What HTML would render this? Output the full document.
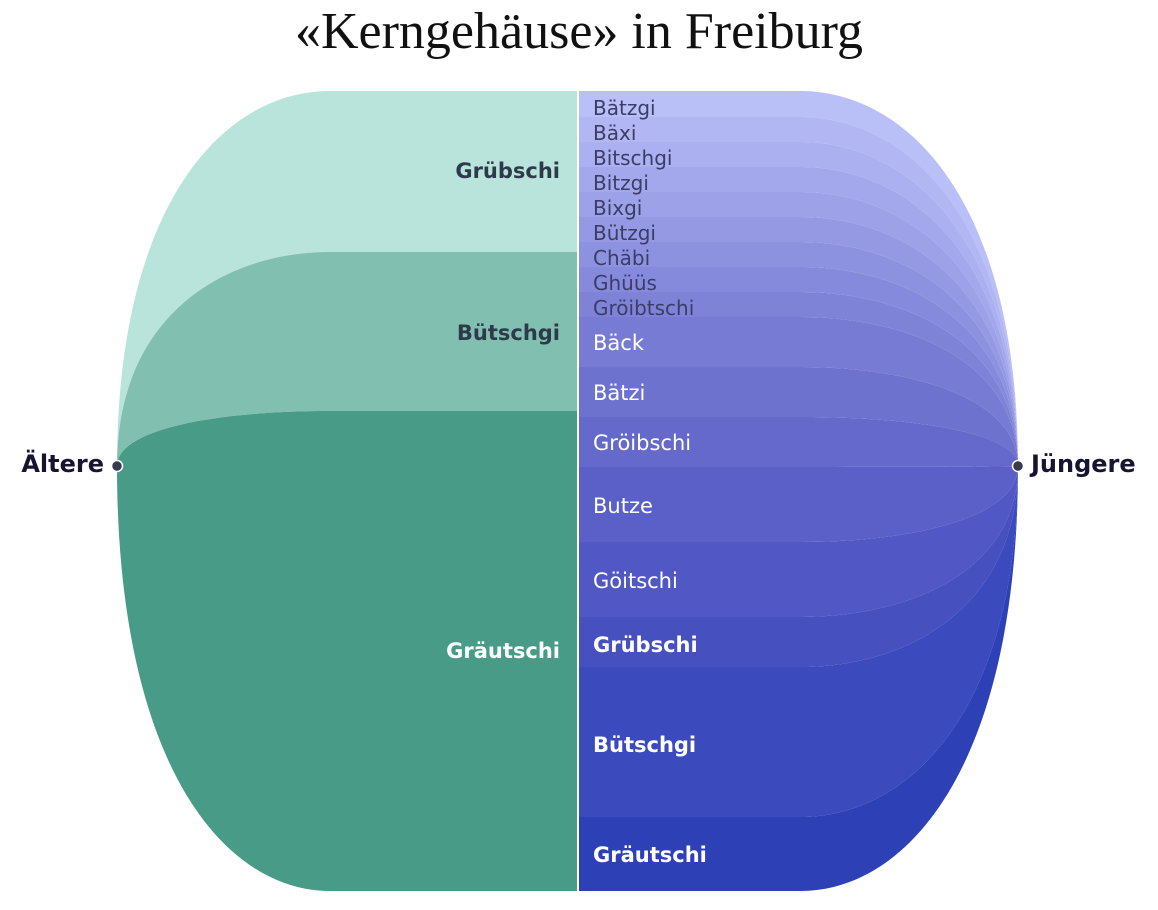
<!DOCTYPE html>
<html><head><meta charset="utf-8"><style>
body{margin:0;background:#fff;width:1158px;height:910px;overflow:hidden}
svg{display:block}
.t{font-family:"Liberation Serif",serif;font-size:52px;fill:#111}
.s{font-family:"DejaVu Sans","Liberation Sans",sans-serif;font-size:20px;fill:#3b3d66}
.w{font-family:"DejaVu Sans","Liberation Sans",sans-serif;font-size:21px;fill:#fff}
.b{font-family:"DejaVu Sans","Liberation Sans",sans-serif;font-size:21px;font-weight:bold}
</style></head><body>
<svg id="g" width="1158" height="910" viewBox="0 0 1158 910">
<g id="L"></g><g id="R"></g>
<rect x="577" y="91" width="2" height="800" fill="#fff"/>
<text class="t" x="579" y="48" text-anchor="middle">«Kerngehäuse» in Freiburg</text>
<g text-anchor="end">
<text class="b" x="560" y="178" fill="#2e3a4a">Grübschi</text>
<text class="b" x="560" y="340" fill="#2e3a4a">Bütschgi</text>
<text class="b" x="560" y="658" fill="#fff">Gräutschi</text>
</g>
<text class="s" x="593" y="115">Bätzgi</text>
<text class="s" x="593" y="140">Bäxi</text>
<text class="s" x="593" y="165">Bitschgi</text>
<text class="s" x="593" y="190">Bitzgi</text>
<text class="s" x="593" y="215">Bixgi</text>
<text class="s" x="593" y="240">Bützgi</text>
<text class="s" x="593" y="265">Chäbi</text>
<text class="s" x="593" y="290">Ghüüs</text>
<text class="s" x="593" y="315">Gröibtschi</text>
<text class="w" x="593" y="350">Bäck</text>
<text class="w" x="593" y="400">Bätzi</text>
<text class="w" x="593" y="450">Gröibschi</text>
<text class="w" x="593" y="513">Butze</text>
<text class="w" x="593" y="588">Göitschi</text>
<text class="b" x="593" y="652" fill="#fff">Grübschi</text>
<text class="b" x="593" y="752" fill="#fff">Bütschgi</text>
<text class="b" x="593" y="862" fill="#fff">Gräutschi</text>
<text class="b" x="104" y="472" text-anchor="end" fill="#151530" style="font-size:24px">Ältere</text>
<text class="b" x="1031" y="472" fill="#151530" style="font-size:24px">Jüngere</text>
<circle cx="117" cy="466" r="5.5" fill="#3a3a4e" stroke="#fff" stroke-width="1.5"/>
<circle cx="1018" cy="466" r="5.5" fill="#3a3a4e" stroke="#fff" stroke-width="1.5"/>
</svg>
<script>
var K1=0.7,K2=0.5;
function band(side,y0,y1,col){
  var d,c0=466+(y0-466)*K1,c1=466+(y1-466)*K1;
  if(side=="L"){
    var cx=330-K2*213;
    d="M117,466 C117,"+c0+" "+cx+","+y0+" 330,"+y0+" L578,"+y0+" L578,"+y1+" L330,"+y1+" C"+cx+","+y1+" 117,"+c1+" 117,466Z";
  }else{
    var cx=800+K2*218;
    d="M578,"+y0+" L800,"+y0+" C"+cx+","+y0+" 1018,"+c0+" 1018,466 C1018,"+c1+" "+cx+","+y1+" 800,"+y1+" L578,"+y1+"Z";
  }
  var p=document.createElementNS("http://www.w3.org/2000/svg","path");
  p.setAttribute("d",d);p.setAttribute("fill",col);
  document.getElementById(side).appendChild(p);
}
band("L",91,252,"#b9e4db");band("L",252,411,"#81bfb0");band("L",411,891,"#479b87");
var ys=[91,117,142,167,192,217,242,267,292,317,367,417,467,542,617,667,817,891];
var cols=["#b9bff7","#b2b7f3","#abb0f0","#a3a8ec","#9ca1e8","#9599e4","#8d92e0","#868adc","#7f83d8","#777bd4","#6e72cf","#6569cb","#5b60c8","#5157c4","#4650bf","#3b4bbd","#2d40b5"];
for(var i=0;i<17;i++)band("R",ys[i],ys[i+1],cols[i]);
</script>
</body></html>
